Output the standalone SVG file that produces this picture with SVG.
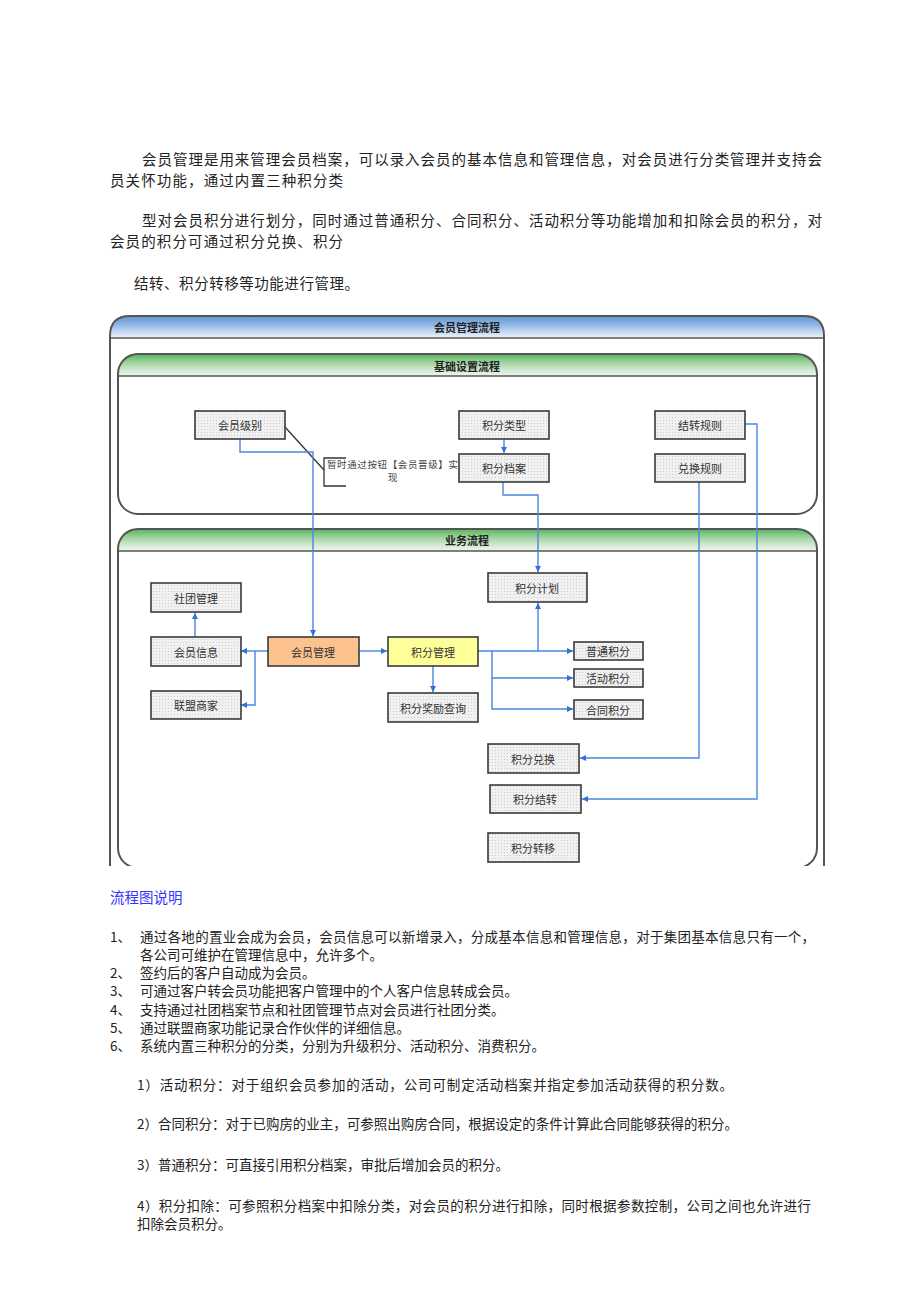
<svg xmlns="http://www.w3.org/2000/svg" width="920" height="1302" viewBox="0 0 920 1302">
<defs>
<style>
.p{font-family:"Noto Sans CJK SC","Noto Sans",sans-serif;font-size:14.5px;fill:#222}
.q{font-family:"Noto Sans CJK SC","Noto Sans",sans-serif;font-size:13.5px;fill:#222}
.n rect{fill:url(#dots);stroke:#3a3a3a;stroke-width:1.6}
.n text{font-family:"Noto Sans CJK SC","Noto Sans",sans-serif;font-size:11px;fill:#333;text-anchor:middle;dominant-baseline:central}
.h{font-family:"Noto Sans CJK SC","Noto Sans",sans-serif;font-size:11px;fill:#222;text-anchor:middle;dominant-baseline:central;font-weight:bold}
.c{fill:none;stroke:#4a86e0;stroke-width:1.4}
.frame{fill:none;stroke:#555;stroke-width:2}
</style>
<pattern id="dots" width="3" height="3" patternUnits="userSpaceOnUse">
<rect width="3" height="3" fill="#f1f1f1"/>
<rect width="1" height="1" fill="#cdcdcd"/>
</pattern>
<linearGradient id="gb" x1="0" y1="0" x2="0" y2="1">
<stop offset="0" stop-color="#6294d2"/>
<stop offset="0.4" stop-color="#8fb6e6"/>
<stop offset="0.7" stop-color="#c2d8f2"/>
<stop offset="1" stop-color="#eef3f9"/>
</linearGradient>
<linearGradient id="gg" x1="0" y1="0" x2="0" y2="1">
<stop offset="0" stop-color="#56b45c"/>
<stop offset="0.35" stop-color="#98d098"/>
<stop offset="0.7" stop-color="#cfe7cf"/>
<stop offset="1" stop-color="#eff6ef"/>
</linearGradient>
<marker id="a" viewBox="0 0 10 10" refX="10" refY="5" markerWidth="6" markerHeight="6" orient="auto-start-reverse" markerUnits="userSpaceOnUse">
<path d="M0,0 L10,5 L0,10 Z" fill="#3070d8"/>
</marker>
<clipPath id="clip"><rect x="0" y="300" width="920" height="566"/></clipPath>
</defs>
<rect width="920" height="1302" fill="#fff"/>

<g id="intro">
<text class="p" x="142" y="165" textLength="680" lengthAdjust="spacing">会员管理是用来管理会员档案，可以录入会员的基本信息和管理信息，对会员进行分类管理并支持会</text>
<text class="p" x="110" y="186" textLength="233" lengthAdjust="spacing">员关怀功能，通过内置三种积分类</text>
<text class="p" x="142" y="226" textLength="680" lengthAdjust="spacing">型对会员积分进行划分，同时通过普通积分、合同积分、活动积分等功能增加和扣除会员的积分，对</text>
<text class="p" x="110" y="247" textLength="233" lengthAdjust="spacing">会员的积分可通过积分兑换、积分</text>
<text class="p" x="134" y="289" textLength="225" lengthAdjust="spacing">结转、积分转移等功能进行管理。</text>
</g>

<g id="diagram" clip-path="url(#clip)">
<g id="frame-outer">
<path d="M110,338 L110,336 Q110,316 130,316 L804,316 Q824,316 824,336 L824,338 Z" fill="url(#gb)"/>
<path class="frame" d="M110,880 L110,336 Q110,316 130,316 L804,316 Q824,316 824,336 L824,880"/>
<line x1="110" y1="338" x2="824" y2="338" stroke="#555" stroke-width="1.6"/>
<text class="h" x="467" y="327">会员管理流程</text>
</g>
<g id="panel-basic">
<path d="M118,376 L118,374 Q118,354 138,354 L797,354 Q817,354 817,374 L817,376 Z" fill="url(#gg)"/>
<rect class="frame" x="118" y="354" width="699" height="160" rx="20"/>
<line x1="118" y1="376" x2="817" y2="376" stroke="#555" stroke-width="1.6"/>
<text class="h" x="467" y="366">基础设置流程</text>
</g>
<g id="panel-biz">
<path d="M118,551 L118,549 Q118,529 138,529 L797,529 Q817,529 817,549 L817,551 Z" fill="url(#gg)"/>
<rect class="frame" x="118" y="529" width="699" height="339" rx="20"/>
<line x1="118" y1="551" x2="817" y2="551" stroke="#555" stroke-width="1.6"/>
<text class="h" x="467" y="540">业务流程</text>
</g>

<g id="connectors">
<line x1="285" y1="427" x2="324" y2="470" stroke="#333" stroke-width="1.3"/>
<path d="M346,458 L324,458 L324,486 L346,486" fill="none" stroke="#333" stroke-width="1.3"/>
<path class="c" d="M240,439 L240,452 L313,452 L313,636" marker-end="url(#a)"/>
<path class="c" d="M504,439 L504,453" marker-end="url(#a)"/>
<path class="c" d="M503,482 L503,495 L538,495 L538,572" marker-end="url(#a)"/>
<path class="c" d="M745,424 L757,424 L757,799 L582,799" marker-end="url(#a)"/>
<path class="c" d="M699,482 L699,758 L580,758" stroke="#7a80e0" marker-end="url(#a)"/>
<path class="c" d="M268,651 L241,651" marker-end="url(#a)"/>
<path class="c" d="M255,651 L255,705 L241,705" marker-end="url(#a)"/>
<path class="c" d="M195,637 L195,613" marker-end="url(#a)"/>
<path class="c" d="M359,651 L387,651" marker-end="url(#a)"/>
<path class="c" d="M433,666 L433,692" marker-end="url(#a)"/>
<path class="c" d="M478,651 L573,651" stroke="#5a6ee0" marker-end="url(#a)"/>
<path class="c" d="M538,651 L538,603" marker-end="url(#a)"/>
<path class="c" d="M492,651 L492,678 L573,678" marker-end="url(#a)"/>
<path class="c" d="M492,678 L492,709 L573,709" marker-end="url(#a)"/>
</g>

<g id="note">
<text x="327" y="468" font-family="Noto Sans CJK SC, sans-serif" font-size="9.5" fill="#444" textLength="131" lengthAdjust="spacing">暂时通过按钮【会员晋级】实</text>
<text x="388" y="481" font-family="Noto Sans CJK SC, sans-serif" font-size="9.5" fill="#444">现</text>
</g>

<g id="n-level" class="n"><rect x="195" y="411" width="90" height="28"/><text x="240" y="425">会员级别</text></g>
<g id="n-type" class="n"><rect x="459" y="411" width="90" height="28"/><text x="504" y="425">积分类型</text></g>
<g id="n-archive" class="n"><rect x="459" y="454" width="90" height="28"/><text x="504" y="468">积分档案</text></g>
<g id="n-carry-rule" class="n"><rect x="655" y="411" width="90" height="28"/><text x="700" y="425">结转规则</text></g>
<g id="n-exch-rule" class="n"><rect x="655" y="454" width="90" height="28"/><text x="700" y="468">兑换规则</text></g>

<g id="n-club" class="n"><rect x="151" y="583" width="90" height="29"/><text x="196" y="597.5">社团管理</text></g>
<g id="n-info" class="n"><rect x="151" y="637" width="90" height="29"/><text x="196" y="651.5">会员信息</text></g>
<g id="n-member" class="n"><rect x="268" y="637" width="91" height="29" style="fill:#fcc38f"/><text x="313" y="651.5">会员管理</text></g>
<g id="n-points" class="n"><rect x="388" y="637" width="90" height="29" style="fill:#ffff99"/><text x="433" y="651.5">积分管理</text></g>
<g id="n-merchant" class="n"><rect x="151" y="691" width="90" height="28"/><text x="196" y="705">联盟商家</text></g>
<g id="n-reward" class="n"><rect x="388" y="693" width="90" height="29"/><text x="433" y="707.5">积分奖励查询</text></g>
<g id="n-plan" class="n"><rect x="488" y="573" width="99" height="29"/><text x="537" y="587.5">积分计划</text></g>
<g id="n-normal" class="n"><rect x="574" y="642" width="69" height="18"/><text x="608" y="651">普通积分</text></g>
<g id="n-activity" class="n"><rect x="574" y="669" width="69" height="18"/><text x="608" y="678">活动积分</text></g>
<g id="n-contract" class="n"><rect x="574" y="700" width="69" height="19"/><text x="608" y="709.5">合同积分</text></g>
<g id="n-exchange" class="n"><rect x="488" y="744" width="91" height="29"/><text x="533" y="758.5">积分兑换</text></g>
<g id="n-carry" class="n"><rect x="490" y="785" width="91" height="28"/><text x="535" y="799">积分结转</text></g>
<g id="n-transfer" class="n"><rect x="488" y="833" width="91" height="29"/><text x="533" y="847.5">积分转移</text></g>
</g>

<g id="notes">
<text x="110" y="903" font-family="Noto Sans CJK SC, sans-serif" font-size="14.5" fill="#3333ff">流程图说明</text>
<text class="q" x="110" y="942">1、</text>
<text class="q" x="140" y="942" textLength="675" lengthAdjust="spacing">通过各地的置业会成为会员，会员信息可以新增录入，分成基本信息和管理信息，对于集团基本信息只有一个，</text>
<text class="q" x="140" y="960">各公司可维护在管理信息中，允许多个。</text>
<text class="q" x="110" y="978">2、</text>
<text class="q" x="140" y="978">签约后的客户自动成为会员。</text>
<text class="q" x="110" y="996">3、</text>
<text class="q" x="140" y="996">可通过客户转会员功能把客户管理中的个人客户信息转成会员。</text>
<text class="q" x="110" y="1015">4、</text>
<text class="q" x="140" y="1015">支持通过社团档案节点和社团管理节点对会员进行社团分类。</text>
<text class="q" x="110" y="1033">5、</text>
<text class="q" x="140" y="1033">通过联盟商家功能记录合作伙伴的详细信息。</text>
<text class="q" x="110" y="1051">6、</text>
<text class="q" x="140" y="1051">系统内置三种积分的分类，分别为升级积分、活动积分、消费积分。</text>
<text class="q" x="137" y="1090" textLength="596" lengthAdjust="spacing">1）活动积分：对于组织会员参加的活动，公司可制定活动档案并指定参加活动获得的积分数。</text>
<text class="q" x="137" y="1129" textLength="601" lengthAdjust="spacing">2）合同积分：对于已购房的业主，可参照出购房合同，根据设定的条件计算此合同能够获得的积分。</text>
<text class="q" x="137" y="1170">3）普通积分：可直接引用积分档案，审批后增加会员的积分。</text>
<text class="q" x="137" y="1211" textLength="674" lengthAdjust="spacing">4）积分扣除：可参照积分档案中扣除分类，对会员的积分进行扣除，同时根据参数控制，公司之间也允许进行</text>
<text class="q" x="137" y="1229">扣除会员积分。</text>
</g>
</svg>
